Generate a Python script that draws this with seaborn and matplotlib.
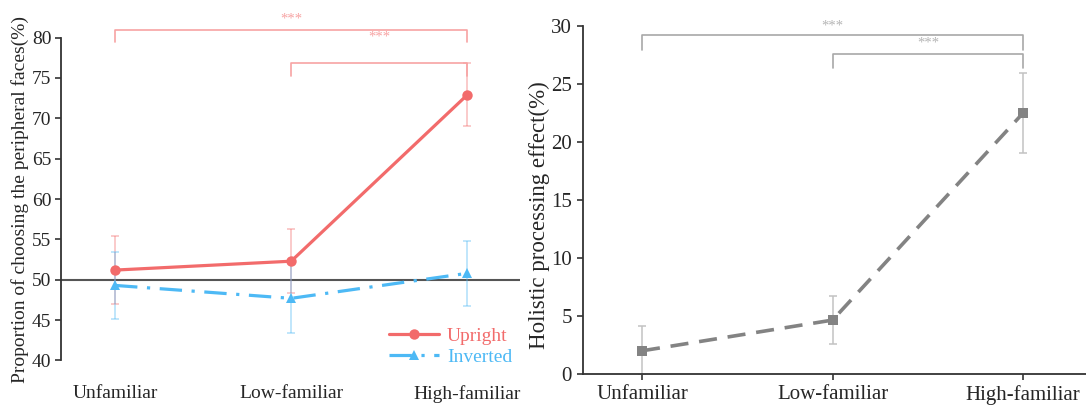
import matplotlib
matplotlib.use("Agg")
import matplotlib.pyplot as plt
import numpy as np
import pandas as pd
import seaborn as sns

# data
categories = ["Unfamiliar", "Low-familiar", "High-familiar"]
upright = [51.2, 52.3, 72.9]
upright_err = [4.25, 3.95, 3.9]
inverted = [49.3, 47.7, 50.8]
inverted_err = [4.15, 4.35, 4.0]
holistic = [2.0, 4.65, 22.5]
holistic_err = [2.1, 2.05, 3.45]

# significance brackets: (from, to, bar height, leg bottom, star height)
left_sig = [(0, 2, 81.0, 79.5, 82.3), (1, 2, 76.9, 75.3, 80.1)]
right_sig = [(0, 2, 29.2, 27.9, 30.0), (1, 2, 27.6, 26.35, 28.5)]

red = "#F26B6B"
blue = "#4DB9F5"
grey = "#838383"

sns.set_style("ticks")
plt.rcParams["font.family"] = ["Liberation Serif", "DejaVu Serif"]

xpos = np.arange(len(categories))
df_left = pd.DataFrame({
    "x": np.concatenate([xpos, xpos]),
    "y": upright + inverted,
    "cond": ["Upright"] * 3 + ["Inverted"] * 3,
})
df_right = pd.DataFrame({"x": xpos, "y": holistic})

fig = plt.figure(figsize=(10.86, 4.05), dpi=100)
ax1 = fig.add_axes([0.0562, 0.1099, 0.4227, 0.7973])
ax2 = fig.add_axes([0.5368, 0.0765, 0.4632, 0.8593])

# ---- left panel
ax1.axhline(50, color="#555555", lw=1.5, zorder=1)
ax1.errorbar(xpos, upright, yerr=upright_err, fmt="none", ecolor=red, alpha=0.45,
             elinewidth=1.1, capsize=3, capthick=1.1, zorder=2)
ax1.errorbar(xpos, inverted, yerr=inverted_err, fmt="none", ecolor=blue, alpha=0.45,
             elinewidth=1.1, capsize=3, capthick=1.1, zorder=2)
sns.lineplot(data=df_left, x="x", y="y", hue="cond", style="cond",
             palette={"Upright": red, "Inverted": blue},
             dashes={"Upright": "", "Inverted": (7, 3, 1, 3)},
             markers={"Upright": "o", "Inverted": "^"},
             markersize=7.5, markeredgewidth=0, lw=2.3, ax=ax1, zorder=3)

ax1.set_xlim(-0.307, 2.30)
ax1.set_ylim(40, 80)
ax1.set_yticks(np.arange(40, 81, 5))
ax1.set_xticks(xpos)
ax1.set_xticklabels(categories)
ax1.tick_params(axis="x", length=0, pad=18, labelsize=14)
ax1.tick_params(axis="y", length=4, width=1.2, pad=3, labelsize=14, color="#333333")
sns.despine(ax=ax1, bottom=True)
ax1.spines["left"].set_color("#333333")
ax1.spines["left"].set_linewidth(1.3)
ax1.set_xlabel("")
ax1.set_ylabel("Proportion of choosing the peripheral faces(%)", fontsize=14)
ax1.yaxis.set_label_coords(-0.07, 0.5)

leg = ax1.legend(loc="lower right", bbox_to_anchor=(1.0, -0.04), frameon=False,
                 fontsize=14, handlelength=2.6, handletextpad=0.4, labelspacing=0.15,
                 borderaxespad=0)
for t in leg.get_texts():
    t.set_color(red if t.get_text() == "Upright" else blue)

for a, b, h, low, s in left_sig:
    ax1.plot([a, a, b, b], [low, h, h, low], color="#F7A3A3", lw=1.2,
             clip_on=False, zorder=4)
    ax1.text((a + b) / 2, s, "***", color="#F7A3A3", fontsize=10.5,
             ha="center", va="center", clip_on=False)

# ---- right panel
ax2.errorbar(xpos, holistic, yerr=holistic_err, fmt="none", ecolor="#C2C2C2",
             elinewidth=1.1, capsize=3, capthick=1.1, zorder=2)
sns.lineplot(data=df_right, x="x", y="y", color=grey, lw=2.6, marker="s",
             markersize=7, markeredgewidth=0, ax=ax2, zorder=3)
ax2.lines[-1].set_linestyle((0, (5, 3)))

ax2.set_xlim(-0.31, 2.33)
ax2.set_ylim(0, 30)
ax2.set_yticks(np.arange(0, 31, 5))
ax2.set_xticks(xpos)
ax2.set_xticklabels(categories)
ax2.tick_params(axis="both", length=4, width=1.2, pad=4, labelsize=15, color="#333333")
sns.despine(ax=ax2)
for sp in ["left", "bottom"]:
    ax2.spines[sp].set_color("#333333")
    ax2.spines[sp].set_linewidth(1.3)
ax2.set_xlabel("")
ax2.set_ylabel("Holistic processing effect(%)", fontsize=16.5)
ax2.yaxis.set_label_coords(-0.066, 0.457)

for a, b, h, low, s in right_sig:
    ax2.plot([a, a, b, b], [low, h, h, low], color="#A8A8A8", lw=1.2,
             clip_on=False, zorder=4)
    ax2.text((a + b) / 2, s, "***", color="#B5B5B5", fontsize=10.5,
             ha="center", va="center", clip_on=False)

fig.savefig("out.png", dpi=100)
